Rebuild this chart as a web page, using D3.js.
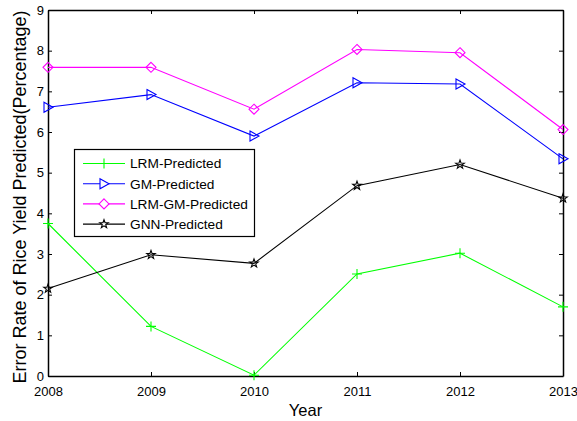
<!DOCTYPE html>
<html><head><meta charset="utf-8">
<script src="https://cdn.jsdelivr.net/npm/d3@7"></script>
<style>body{margin:0;background:#fff}svg{display:block}text{font-family:"Liberation Sans",Arial,sans-serif}</style>
</head><body><div id="chart"></div>
<script>
const years = [2008, 2009, 2010, 2011, 2012, 2013];
const lrm = [3.75, 1.22, 0.02, 2.51, 3.02, 1.70];
const gm = [6.61, 6.92, 5.90, 7.21, 7.18, 5.34];
const lrmgm = [7.59, 7.59, 6.56, 8.03, 7.95, 6.06];
const gnn = [2.15, 2.98, 2.77, 4.68, 5.20, 4.37];
const yTicks = [0,1,2,3,4,5,6,7,8,9];
const seriesNames = ["LRM-Predicted","GM-Predicted","LRM-GM-Predicted","GNN-Predicted"];
const seriesColors = ["#00ff00","#0000ff","#ff00ff","#000000"];
const seriesMarkers = ["plus","tri","diamond","star"];
const seriesData = [lrm, gm, lrmgm, gnn];

const W = 577, H = 421;
const m = {l:48, r:14, t:10, b:45};
const svg = d3.select("#chart").append("svg").attr("width", W).attr("height", H);
const x = d3.scaleLinear().domain([2008, 2013]).range([m.l, W - m.r]);
const y = d3.scaleLinear().domain([0, 9]).range([H - m.b, m.t]);

function markerPath(type){
  if(type==="plus") return "M-5,0H5M0,-5V5";
  if(type==="tri") return "M-4,-5L5,0L-4,5Z";
  if(type==="diamond") return "M0,-5L5,0L0,5L-5,0Z";
  let p=[]; for(let i=0;i<10;i++){const r=i%2?1.8:4.5;const a=-Math.PI/2+i*Math.PI/5;p.push([r*Math.cos(a),r*Math.sin(a)]);}
  return "M"+p.map(d=>d[0].toFixed(2)+","+d[1].toFixed(2)).join("L")+"Z";
}

const tickLen = 4;
const gB = svg.append("g").attr("transform",`translate(0,${y(0)})`)
  .call(d3.axisBottom(x).tickValues(years).tickFormat(d3.format("d")).tickSizeInner(-tickLen).tickSizeOuter(0).tickPadding(8));
const gT = svg.append("g").attr("transform",`translate(0,${y(9)})`)
  .call(d3.axisTop(x).tickValues(years).tickFormat("").tickSizeInner(-tickLen).tickSizeOuter(0));
const gL = svg.append("g").attr("transform",`translate(${x(2008)},0)`)
  .call(d3.axisLeft(y).tickValues(yTicks).tickFormat(d3.format("d")).tickSizeInner(-tickLen).tickSizeOuter(0).tickPadding(6));
const gR = svg.append("g").attr("transform",`translate(${x(2013)},0)`)
  .call(d3.axisRight(y).tickValues(yTicks).tickFormat("").tickSizeInner(-tickLen).tickSizeOuter(0));
[gB,gT,gL,gR].forEach(g=>{g.selectAll(".domain").attr("stroke","#000").attr("stroke-width",1.5);
  g.selectAll(".tick line").attr("stroke","#000");
  g.selectAll("text").attr("fill","#000").style("font-size","13px");});
gB.selectAll("text").attr("dy","0.9em");
gL.selectAll("text").attr("dx","2");

const line = d3.line().x((d,i)=>x(years[i])).y(d=>y(d));
seriesData.forEach((vals,k)=>{
  svg.append("path").datum(vals).attr("d",line).attr("fill","none").attr("stroke",seriesColors[k]).attr("stroke-width",1.1);
  svg.append("g").selectAll("path").data(vals).join("path")
    .attr("transform",(d,i)=>`translate(${x(years[i])},${y(d)})`)
    .attr("d",markerPath(seriesMarkers[k])).attr("fill","none").attr("stroke",seriesColors[k]).attr("stroke-width",1.1);
});

const lg = svg.append("g");
lg.append("rect").attr("x",74.5).attr("y",149.5).attr("width",180).attr("height",87).attr("fill","#fff").attr("stroke","#000").attr("stroke-width",1.2);
seriesNames.forEach((n,k)=>{
  const yy = 163.5 + k*20.2;
  lg.append("line").attr("x1",83).attr("x2",125).attr("y1",yy).attr("y2",yy).attr("stroke",seriesColors[k]).attr("stroke-width",1.1);
  lg.append("path").attr("transform",`translate(104,${yy})`).attr("d",markerPath(seriesMarkers[k])).attr("fill","#fff").attr("stroke",seriesColors[k]).attr("stroke-width",1.1);
  lg.append("text").attr("x",130).attr("y",yy).attr("dy","0.36em").style("font-size","13.7px").attr("fill","#000").text(n);
});

svg.append("text").attr("x",(x(2008)+x(2013))/2).attr("y",416).attr("text-anchor","middle").style("font-size","16.5px").text("Year");
svg.append("text").attr("transform",`translate(26,197) rotate(-90)`).attr("text-anchor","middle").style("font-size","18px").text("Error Rate of Rice Yield Predicted(Percentage)");
</script></body></html>
